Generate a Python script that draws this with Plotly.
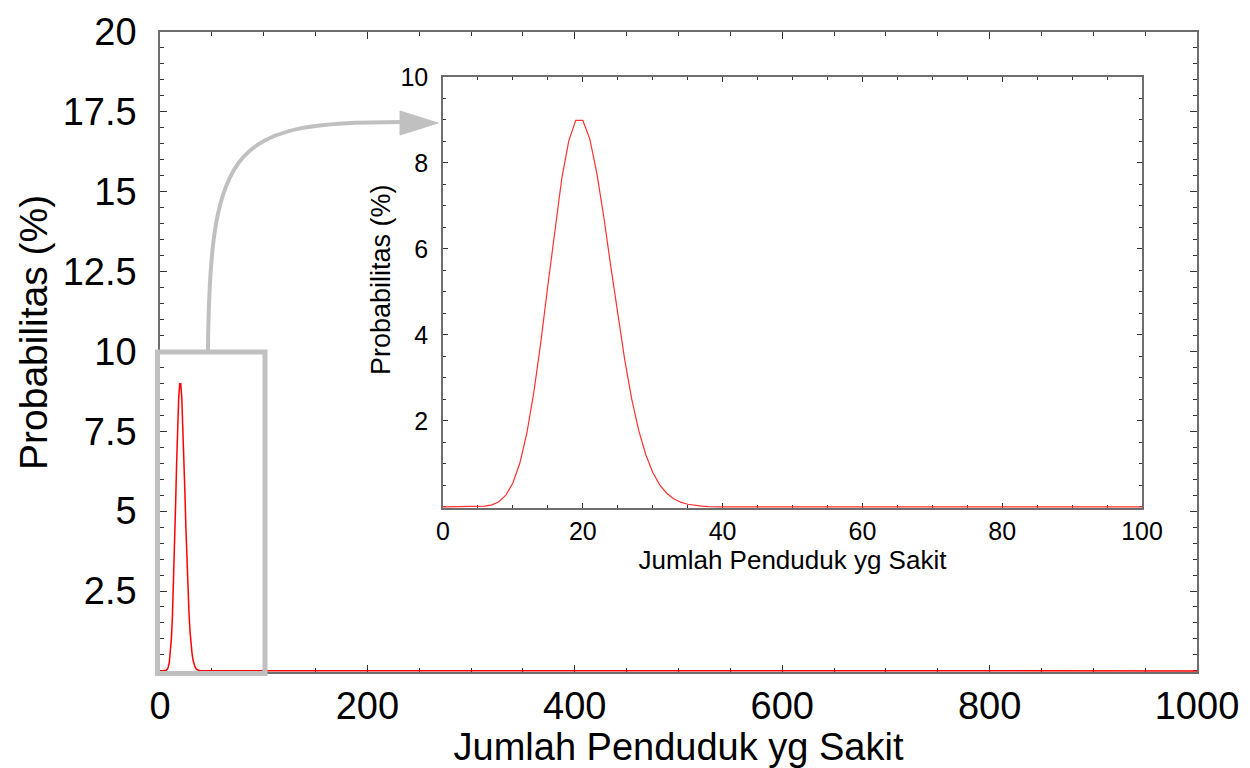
import plotly.graph_objects as go

# ---- data ----
sick_counts = list(range(0, 41)) + [1000]
probability_pct = [
    0.0, 0.0, 0.0, 0.0002, 0.0012, 0.0049, 0.0167, 0.048, 0.122, 0.275,
    0.557, 1.02, 1.72, 2.67, 3.84, 5.15, 6.47, 7.65, 8.52, 8.99,
    8.99, 8.56, 7.77, 6.75, 5.60, 4.46, 3.42, 2.51, 1.78, 1.22,
    0.805, 0.514, 0.318, 0.190, 0.110, 0.062, 0.034, 0.018, 0.0093, 0.0047,
    0.0023, 0.0,
]

main_x_ticks = [0, 200, 400, 600, 800, 1000]
main_y_ticks = [2.5, 5, 7.5, 10, 12.5, 15, 17.5, 20]
main_y_labels = ["2.5", "5", "7.5", "10", "12.5", "15", "17.5", "20"]
inset_x_ticks = [0, 20, 40, 60, 80, 100]
inset_y_ticks = [2, 4, 6, 8, 10]

x_title = "Jumlah Penduduk yg Sakit"
y_title = "Probabilitas (%)"

# ---- layout geometry (page has an 8px body margin) ----
OFF = 8
W, H = 1250 - OFF, 768 - OFF
L, R, T, B = 160 - OFF, 53, 32 - OFF, 96
PW, PH = W - L - R, H - T - B

def px2paper(px, py):
    # px, py are page pixels
    return (px - (L + OFF)) / PW, ((T + OFF + PH) - py) / PH

FONT = "Liberation Sans, Arial, sans-serif"
FRAME = "#6e6e6e"
TICKC = "#333333"
GRAY = "#c0c0c0"

fig = go.Figure()

fig.add_trace(go.Scatter(
    x=sick_counts, y=probability_pct, mode="lines",
    line=dict(color="#ff0000", width=1.5),
    xaxis="x", yaxis="y", showlegend=False, hoverinfo="skip",
))
fig.add_trace(go.Scatter(
    x=sick_counts, y=probability_pct, mode="lines",
    line=dict(color="#ff3030", width=1.2),
    xaxis="x2", yaxis="y2", showlegend=False, hoverinfo="skip",
))

ix0, iy1 = px2paper(443, 77)
ix1, iy0 = px2paper(1142, 508)

common = dict(showline=True, linecolor=FRAME, linewidth=1.5, mirror="ticks",
              ticks="inside", tickcolor=TICKC, showgrid=False, zeroline=False,
              layer="below traces")

fig.update_layout(
    width=W, height=H,
    margin=dict(l=L, r=R, t=T, b=B, autoexpand=False),
    paper_bgcolor="white", plot_bgcolor="white",
    font=dict(family=FONT, color="black"),
    xaxis=dict(domain=[0, 1], range=[0, 1000], tickvals=main_x_ticks,
               ticklen=7, tickwidth=1.2,
               minor=dict(dtick=50, tick0=0, ticks="inside", ticklen=4, tickcolor=TICKC),
               tickfont=dict(size=38), ticklabelstandoff=0,
               title=dict(text=x_title, font=dict(size=38), standoff=0),
               automargin=False, **common),
    yaxis=dict(domain=[0, 1], range=[-0.035, 20], tickvals=main_y_ticks, ticktext=main_y_labels,
               ticklen=7, tickwidth=1.2,
               minor=dict(dtick=0.5, tick0=0, ticks="inside", ticklen=4, tickcolor=TICKC),
               tickfont=dict(size=38), ticklabelstandoff=14,
               automargin=False, **common),
    xaxis2=dict(domain=[ix0, ix1], range=[0, 100], anchor="y2", tickvals=inset_x_ticks,
                ticklen=5, tickwidth=1,
                minor=dict(dtick=5, tick0=0, ticks="inside", ticklen=3, tickcolor=TICKC),
                tickfont=dict(size=25), ticklabelstandoff=0,
                title=dict(text=x_title, font=dict(size=26), standoff=0),
                automargin=False, **common),
    yaxis2=dict(domain=[iy0, iy1], range=[-0.025, 10], anchor="x2", tickvals=inset_y_ticks,
                ticklen=5, tickwidth=1,
                minor=dict(dtick=0.5, tick0=0, ticks="inside", ticklen=3, tickcolor=TICKC),
                tickfont=dict(size=25), ticklabelstandoff=8,
                automargin=False, **common),
)

# y-axis titles (placed as in the reference, slightly above axis centre)
ytx, yty = px2paper(33, 333)
fig.add_annotation(text=y_title, xref="paper", yref="paper", x=ytx, y=yty,
                   xanchor="center", yanchor="middle", textangle=-90, showarrow=False,
                   font=dict(size=39, family=FONT, color="black"))
itx, ity = px2paper(381, 280)
fig.add_annotation(text=y_title, xref="paper", yref="paper", x=itx, y=ity,
                   xanchor="center", yanchor="middle", textangle=-90, showarrow=False,
                   font=dict(size=27, family=FONT, color="black"))

# gray zoom rectangle around the region x 0..100, y 0..10
rx0, ry0 = px2paper(157.5, 673.5)
rx1, ry1 = px2paper(265, 352)
fig.add_shape(type="rect", xref="paper", yref="paper", x0=rx0, y0=ry0, x1=rx1, y1=ry1,
              line=dict(color=GRAY, width=5), fillcolor="rgba(0,0,0,0)", layer="above")

# curved gray arrow from the rectangle to the inset
p0 = px2paper(208, 350)
p1 = px2paper(210, 140)
p2 = px2paper(235, 122)
p3 = px2paper(402, 122)
path = "M {:.5f},{:.5f} C {:.5f},{:.5f} {:.5f},{:.5f} {:.5f},{:.5f}".format(*p0, *p1, *p2, *p3)
fig.add_shape(type="path", xref="paper", yref="paper", path=path,
              line=dict(color=GRAY, width=4), layer="above")
h_tip = px2paper(438, 123)
h_a = px2paper(400, 111)
h_b = px2paper(400, 135)
head = "M {:.5f},{:.5f} L {:.5f},{:.5f} L {:.5f},{:.5f} Z".format(*h_tip, *h_a, *h_b)
fig.add_shape(type="path", xref="paper", yref="paper", path=head,
              line=dict(color=GRAY, width=1), fillcolor=GRAY, layer="above")

fig.write_html("out.html")
